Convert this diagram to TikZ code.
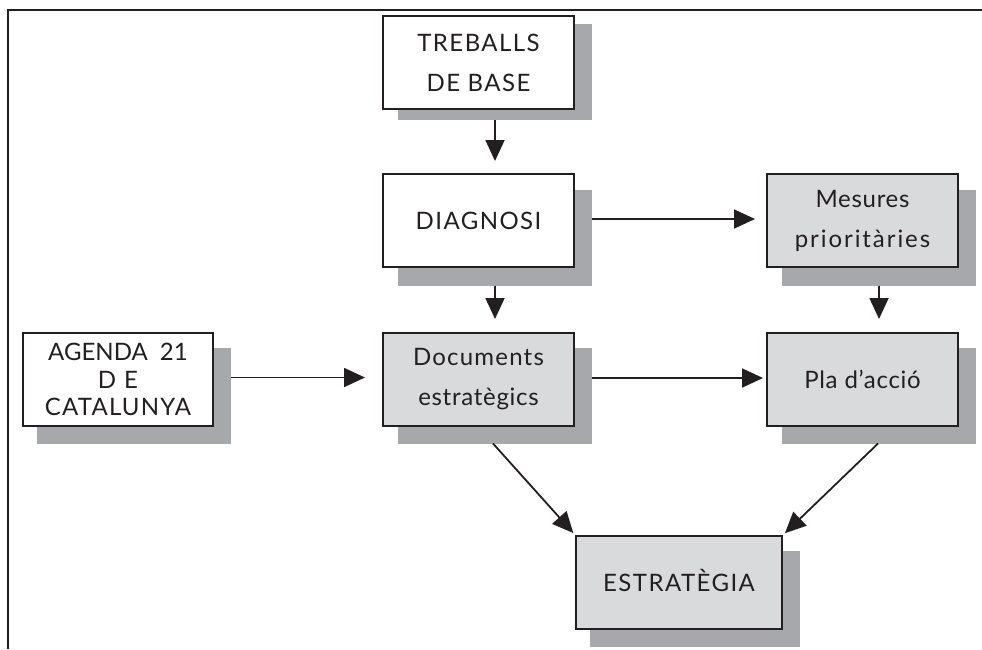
\documentclass[tikz,border=0pt]{standalone}
\usepackage{fontspec}
\setmainfont{Lato}[LetterSpace=6]
\newfontfamily\lsA{Lato}[LetterSpace=0]
\newfontfamily\lsB{Lato}[LetterSpace=3]
\newfontfamily\lsC{Lato}[LetterSpace=5]
\newfontfamily\lsD{Lato}[LetterSpace=8]
\usetikzlibrary{arrows.meta,calc}
\definecolor{boxgray}{HTML}{D9DADC}
\definecolor{shadowgray}{HTML}{A7A8AB}
\definecolor{inkc}{HTML}{231F20}
\tikzset{
  boxbase/.style={draw=inkc,line width=1.3pt,inner sep=0pt,outer sep=0pt,
    minimum height=93pt,align=center,text=inkc,
    font=\fontsize{24}{40}\selectfont},
  whitebox/.style={boxbase,fill=white},
  graybox/.style={boxbase,fill=boxgray},
  shadowbox/.style={fill=shadowgray,inner sep=0pt,outer sep=0pt,minimum height=96pt},
  arr/.style={draw=inkc,line width=1.8pt,-{Triangle[length=21pt,width=19pt]}},
}
\begin{document}
\begin{tikzpicture}[x=1pt,y=-1pt]
\useasboundingbox (0,0) rectangle (982,649);
% frame
\draw[inkc,line width=1.3pt] (8,649) -- (8,10) -- (982,10);
% shadows
\node[shadowbox,minimum width=194pt] (ts) at (495,71.5) {};
\node[shadowbox,minimum width=194pt] (dgs) at (495,237.5) {};
\node[shadowbox,minimum width=194pt] (dcs) at (495,395.5) {};
\node[shadowbox,minimum width=194pt] (ags) at (134,395.5) {};
\node[shadowbox,minimum width=194pt] (ms) at (879,237.5) {};
\node[shadowbox,minimum width=194pt] (ps) at (879,395.5) {};
\node[shadowbox,minimum width=210pt] (es) at (695,598.5) {};
% boxes
\node[whitebox,minimum width=191pt] (t) at (478.5,62.5) {TREBALLS\\DE BASE};
\node[whitebox,minimum width=191pt] (dg) at (478.5,220.5) {DIAGNOSI};
\node[graybox,minimum width=191pt] (dc) at (478.5,379.5) {{\lsC Documents}\\{\lsB estratègics}};
\node[whitebox,minimum width=190pt,font=\fontsize{24}{27.5}\selectfont] (ag) at (118,379.5) {{\lsA AGENDA\hspace{6pt} 21}\\{\lsA D\,\,E}\\{\lsC CATALUNYA}};
\node[graybox,minimum width=191pt] (m) at (862.5,220.5) {{\lsB Mesures}\\{\lsD prioritàries}};
\node[graybox,minimum width=191pt] (p) at (862.5,379.5) {{\lsB Pla d’acció}};
\node[graybox,minimum width=206pt] (e) at (679,582.5) {\raisebox{4pt}{ESTRATÈGIA}};
% arrows
\draw[arr,shorten >=13pt] (ts.south) -- (ts.south |- dg.north);
\draw[arr,shorten >=14pt] (dgs.south) -- (dgs.south |- dc.north);
\draw[arr,shorten >=14pt] (ms.south) -- (ms.south |- p.north);
\draw[arr,shorten >=18pt] ([yshift=2pt]ag.east -| ags.east) -- ([yshift=2pt]dc.west);
\draw[arr,shorten >=12pt] ([yshift=1.5pt]dg.east -| dgs.east) -- ([yshift=1.5pt]m.west);
\draw[arr,shorten >=4pt] ([yshift=1.5pt]dc.east -| dcs.east) -- ([yshift=1.5pt]p.west);
\draw[arr,shorten >=4pt] ([xshift=-2pt]dcs.south) -- (e.north west);
\draw[arr,shorten >=4pt] ([xshift=-1pt]ps.south) -- (e.north east);
\end{tikzpicture}
\end{document}
